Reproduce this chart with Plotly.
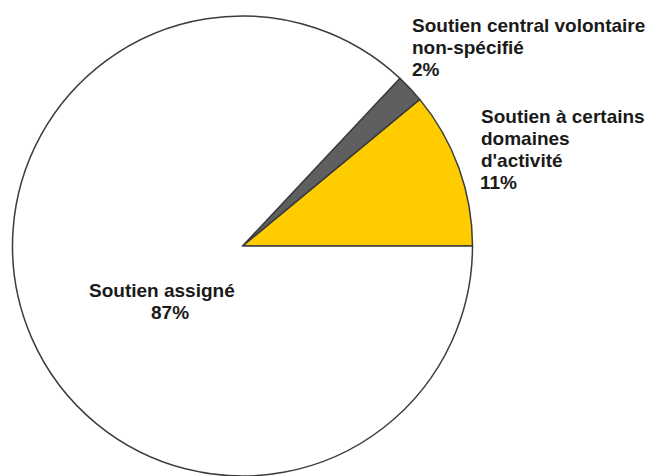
import plotly.graph_objects as go

# Data
categories = ["Soutien à certains domaines d'activité",
              "Soutien central volontaire non-spécifié",
              "Soutien assigné"]
values = [11, 2, 87]
colors = ["#FFCC00", "#5f5f5f", "#FFFFFF"]

# Label text lines (per slice)
label_lines = [
    ["Soutien à certains", "domaines", "d'activité", "11%"],
    ["Soutien central volontaire", "non-spécifié", "2%"],
    ["Soutien assigné", "87%"],
]

W, H = 650, 476
FS = 19
LINE = 22.3

# first slice must start at 3 o'clock and run counterclockwise
start_rot = 90 - 360 * values[0] / sum(values)

fig = go.Figure()
fig.add_trace(go.Pie(
    labels=categories,
    values=values,
    sort=False,
    direction="counterclockwise",
    rotation=start_rot,
    marker=dict(colors=colors, line=dict(color="#3c3c3c", width=1.5)),
    textinfo="none",
    hoverinfo="label+percent",
    showlegend=False,
    domain=dict(x=[12.5 / W, 472.5 / W], y=[0, 460 / H]),
))

def px_x(x):
    return x / W

def px_y(y):
    return 1 - y / H

annotations = []
placements = [
    (479.5, 122.7, "left", None),
    (411.0, 31.7, "left", None),
    (None, 297.3, "center", [161.7, 170.0]),
]
for lines, (x0, b0, anchor, centers) in zip(label_lines, placements):
    for i, txt in enumerate(lines):
        base = b0 + i * LINE
        yc = base - 0.35 * FS
        x = centers[i] if centers else x0
        annotations.append(dict(
            x=px_x(x), y=px_y(yc), xref="paper", yref="paper",
            text=txt, showarrow=False, xanchor=anchor, yanchor="middle",
            borderpad=0,
            font=dict(family="Arial, Liberation Sans, sans-serif", size=FS,
                      color="#1a1a1a", weight=700),
        ))

fig.update_layout(
    width=W, height=H,
    margin=dict(l=0, r=0, t=0, b=0),
    paper_bgcolor="white",
    plot_bgcolor="white",
    annotations=annotations,
)

fig.write_html("out.html")
